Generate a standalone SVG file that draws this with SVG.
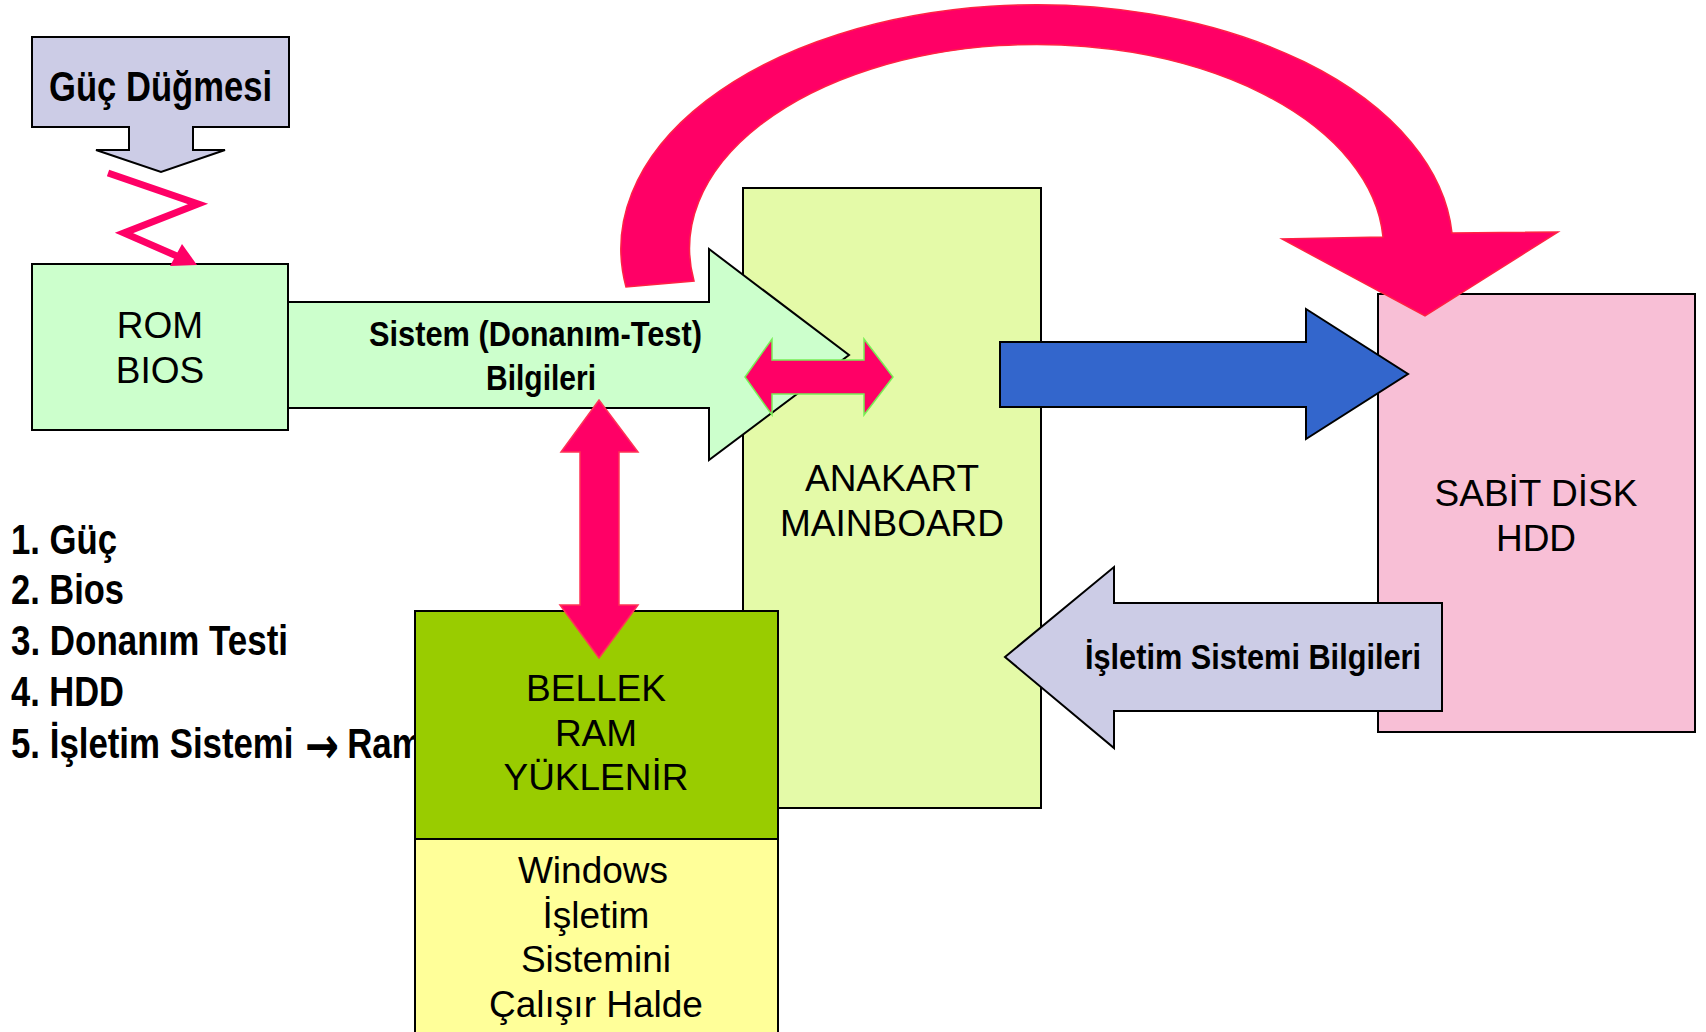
<svg xmlns="http://www.w3.org/2000/svg" width="1706" height="1032" viewBox="0 0 1706 1032">
<style>
.box{stroke:#000;stroke-width:2}
.t{font-family:"Liberation Sans",Arial,sans-serif;font-size:37px;fill:#000;text-anchor:middle}
.b{font-family:"Liberation Sans",Arial,sans-serif;font-weight:bold;fill:#000}
.arr{font-family:"DejaVu Sans",sans-serif;font-weight:bold;fill:#000}
.pink{fill:#FF0066}
</style>
<rect width="1706" height="1032" fill="#fff"/>

<g id="list">
<text class="b" x="11" y="554" font-size="43" textLength="106" lengthAdjust="spacingAndGlyphs">1. Güç</text>
<text class="b" x="11" y="604" font-size="43" textLength="113" lengthAdjust="spacingAndGlyphs">2. Bios</text>
<text class="b" x="11" y="655" font-size="43" textLength="277" lengthAdjust="spacingAndGlyphs">3. Donanım Testi</text>
<text class="b" x="11" y="706" font-size="43" textLength="113" lengthAdjust="spacingAndGlyphs">4. HDD</text>
<g transform="translate(11,758) scale(0.81,1)">
<text class="b" x="0" y="0" font-size="43">5. İşletim Sistemi</text>
<text class="arr" x="363" y="5" font-size="50">→</text>
<text class="b" x="415" y="0" font-size="43">Ram</text>
</g>
</g>

<g id="anakart">
<rect class="box" x="743" y="188" width="298" height="620" fill="#E4FAA8"/>
<text class="t" x="892" y="491">ANAKART</text>
<text class="t" x="892" y="536">MAINBOARD</text>
</g>

<g id="sabit-disk">
<rect class="box" x="1378" y="294" width="317" height="438" fill="#F8BFD6"/>
<text class="t" x="1536" y="506">SABİT DİSK</text>
<text class="t" x="1536" y="551">HDD</text>
</g>

<g id="guc-dugmesi">
<path class="box" d="M32,37 H289 V127 H193 V150 H225 L161,172 L96,150 H129 V127 H32 Z" fill="#CCCCE6"/>
<text class="b" x="49" y="101" font-size="42" textLength="223" lengthAdjust="spacingAndGlyphs">Güç Düğmesi</text>
</g>

<g id="rom-bios">
<rect class="box" x="32" y="264" width="256" height="166" fill="#CCFFCC"/>
<text class="t" x="160" y="338">ROM</text>
<text class="t" x="160" y="383">BIOS</text>
</g>

<g id="bellek">
<rect class="box" x="415" y="611" width="363" height="228" fill="#99CC00"/>
<text class="t" x="596" y="701">BELLEK</text>
<text class="t" x="596" y="746">RAM</text>
<text class="t" x="596" y="790">YÜKLENİR</text>
</g>

<g id="windows">
<rect class="box" x="415" y="839" width="363" height="200" fill="#FFFF99"/>
<text class="t" x="593" y="883">Windows</text>
<text class="t" x="596" y="928">İşletim</text>
<text class="t" x="596" y="972">Sistemini</text>
<text class="t" x="596" y="1017">Çalışır Halde</text>
</g>

<g id="connectors">
<polyline points="108,173 198,204 124,233 186,260" fill="none" stroke="#FF0066" stroke-width="7" stroke-linejoin="miter"/>
<polygon class="pink" points="197,265 170,266 182,244"/>

<path class="box" d="M288,302 H709 V249 L849,355 L709,460 V408 H288 Z" fill="#CCFFCC"/>
<text class="b" x="369" y="346" font-size="35" textLength="333" lengthAdjust="spacingAndGlyphs">Sistem (Donanım-Test)</text>
<text class="b" x="486" y="390" font-size="35" textLength="110" lengthAdjust="spacingAndGlyphs">Bilgileri</text>

<path class="pink" d="M745,377 L772,339 V360 H864 V339 L893,377 L864,415 V394 H772 V415 Z" stroke="#77EE55" stroke-width="1.5"/>

<path class="pink" d="M599,400 L638,452 H619 V605 H638 L599,658 L560,605 H580 V452 H561 Z" stroke="#FF3355" stroke-width="1.5"/>

<path class="box" d="M1000,342 H1306 V309 L1408,374 L1306,439 V407 H1000 Z" fill="#3366CC"/>

<path class="box" d="M1442,603 H1114 V567 L1005,657 L1114,748 V711 H1442 Z" fill="#CCCCE6"/>
<text class="b" x="1085" y="669" font-size="35" textLength="336" lengthAdjust="spacingAndGlyphs">İşletim Sistemi Bilgileri</text>

<path class="pink" d="M626,287 A416,244 0 1 1 1452,233 L1558,232 L1425,316 L1282,239 L1383,237 A347,204 0 1 0 694,281 Z" stroke="#FF2244" stroke-width="1.5"/>
</g>
</svg>
